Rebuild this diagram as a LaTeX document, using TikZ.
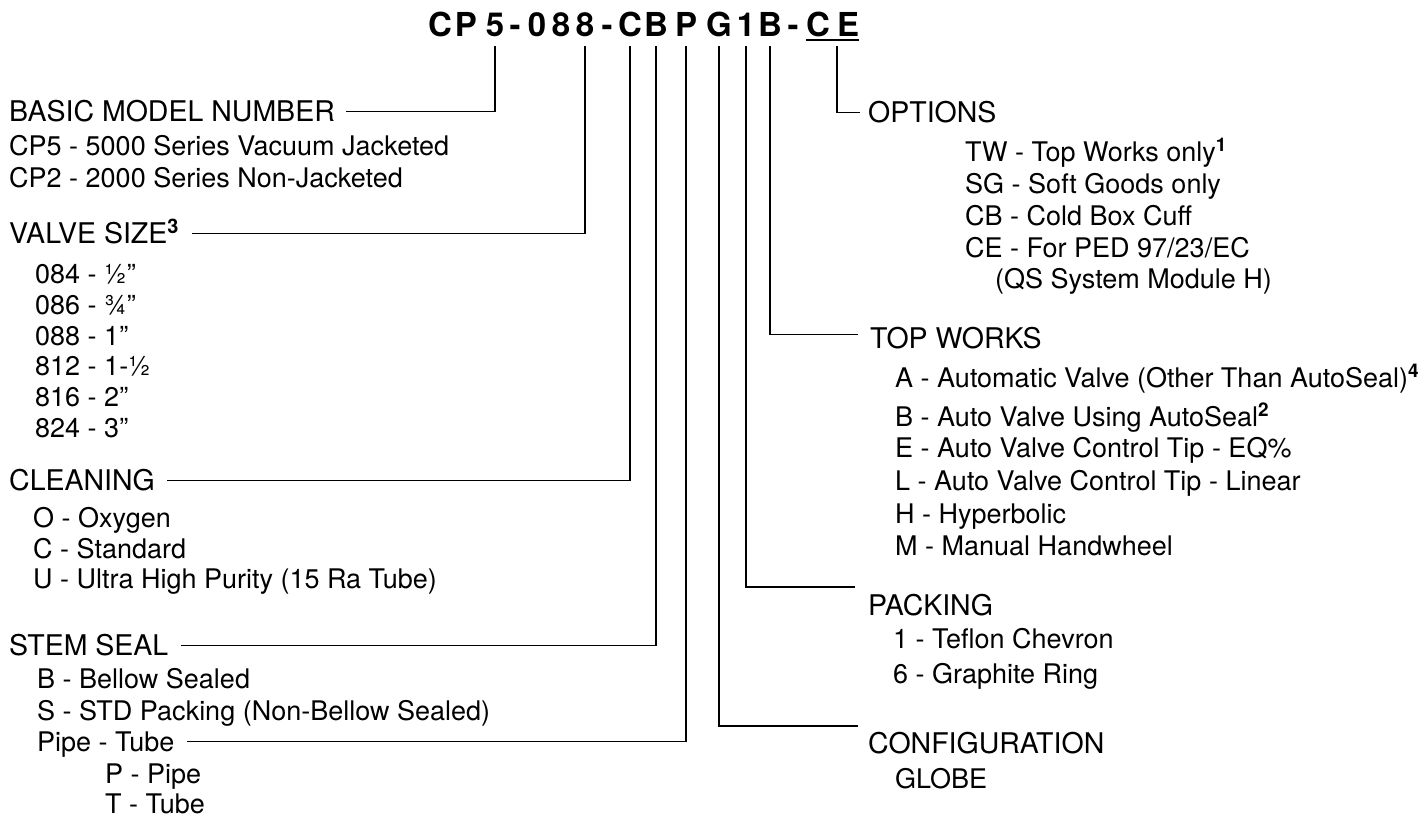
\documentclass[tikz,border=0pt]{standalone}
\usepackage{fontspec}
\setmainfont{TeX Gyre Heros}
\usepackage{tikz}
\newcommand{\sups}[1]{\textsuperscript{\bfseries #1}}

\begin{document}
\begin{tikzpicture}[x=1pt, y=-1pt,
  code/.style={inner sep=0pt, anchor=base, text depth=0pt, font=\fontsize{33}{33}\selectfont\bfseries},
  head/.style={inner sep=0pt, anchor=base west, text height=19pt, text depth=0pt, font=\fontsize{28.5}{30}\selectfont},
  item/.style={inner sep=0pt, anchor=base west, text height=19pt, text depth=0pt, font=\fontsize{27}{30}\selectfont},
  lead/.style={line width=1.8pt}]
\useasboundingbox (0,0) rectangle (1424,819);
% model code
\node[code] (cC) at (440,36) {C};
\node[code] (cP) at (466,36) {P};
\node[code] (c5) at (495,36) {5};
\node[code] (d1) at (515,36) {-};
\node[code] (c0) at (537,36) {0};
\node[code] (c8a) at (561,36) {8};
\node[code] (c8b) at (585,36) {8};
\node[code] (d2) at (607,36) {-};
\node[code] (kC) at (630,36) {C};
\node[code] (kB) at (656,36) {B};
\node[code] (kP) at (686,36) {P};
\node[code] (kG) at (719,36) {G};
\node[code] (k1) at (746,36) {1};
\node[code] (kB2) at (770,36) {B};
\node[code] (d3) at (793,36) {-};
\node[code] (oC) at (818,36) {C};
\node[code] (oE) at (848,36) {E};
\draw[line width=1.6pt] ([yshift=-4pt]oC.south west) -- ([yshift=-4pt]oE.south east);
% left column
\node[head] (basic) at (9,121) {BASIC MODEL NUMBER};
\node[item] at (9,155) {CP5 - 5000 Series Vacuum Jacketed};
\node[item] at (9,187) {CP2 - 2000 Series Non-Jacketed};
\node[head] (size) at (9,243) {VALVE SIZE\sups{3}};
\node[item] at (35,283) {084 - ½”};
\node[item] at (35,314) {086 - ¾”};
\node[item] at (35,345) {088 - 1”};
\node[item] at (35,375) {812 - 1-½};
\node[item] at (35,406) {816 - 2”};
\node[item] at (35,437) {824 - 3”};
\node[head] (clean) at (9,490) {CLEANING};
\node[item] at (33,527) {O - Oxygen};
\node[item] at (33,558) {C - Standard};
\node[item] at (33,588) {U - Ultra High Purity (15 Ra Tube)};
\node[head] (stem) at (9,655) {STEM SEAL};
\node[item] at (37,688) {B - Bellow Sealed};
\node[item] at (37,720) {S - STD Packing (Non-Bellow Sealed)};
\node[item] (pipe) at (37,751) {Pipe - Tube};
\node[item] at (105,783) {P - Pipe};
\node[item] at (105,813) {T - Tube};
% right column
\node[head] (opt) at (868,122) {OPTIONS};
\node[item] at (965,161) {TW - Top Works only\sups{1}};
\node[item] at (965,193) {SG - Soft Goods only};
\node[item] at (965,225) {CB - Cold Box Cuff};
\node[item] at (965,257) {CE - For PED 97/23/EC};
\node[item] at (995,288) {(QS System Module H)};
\node[head] (top) at (870,348) {TOP WORKS};
\node[item] at (895,387) {A - Automatic Valve (Other Than AutoSeal)\sups{4}};
\node[item] at (895,426) {B - Auto Valve Using AutoSeal\sups{2}};
\node[item] at (895,457) {E - Auto Valve Control Tip - EQ\%};
\node[item] at (895,490) {L - Auto Valve Control Tip - Linear};
\node[item] at (895,523) {H - Hyperbolic};
\node[item] at (895,555) {M - Manual Handwheel};
\node[head] (pack) at (868,615) {PACKING};
\node[item] at (893,648) {1 - Teflon Chevron};
\node[item] at (893,683) {6 - Graphite Ring};
\node[head] (conf) at (868,753) {CONFIGURATION};
\node[item] at (895,788) {GLOBE};
% leaders
\draw[lead] ([yshift=-10pt]c5.south) |- ([xshift=11pt]basic.east);
\draw[lead] ([yshift=-10pt]c8b.south) |- ([xshift=13pt]size.east);
\draw[lead] ([yshift=-10pt]kC.south) |- ([xshift=12pt]clean.east);
\draw[lead] ([yshift=-10pt]kB.south) |- ([xshift=12pt]stem.east);
\draw[lead] ([yshift=-10pt]kP.south) |- ([xshift=12pt]pipe.east);
\draw[lead] ([yshift=-10pt]kG.south) |- ([xshift=-10pt,yshift=8pt]conf.north west);
\draw[lead] ([yshift=-10pt]k1.south) |- ([xshift=-13pt,yshift=9pt]pack.north west);
\draw[lead] ([yshift=-10pt]kB2.south) |- ([xshift=-12pt,yshift=4pt]top.west);
\draw[lead] ([yshift=-10pt]oE.south west) |- ([xshift=-8pt]opt.west);
\end{tikzpicture}
\end{document}
